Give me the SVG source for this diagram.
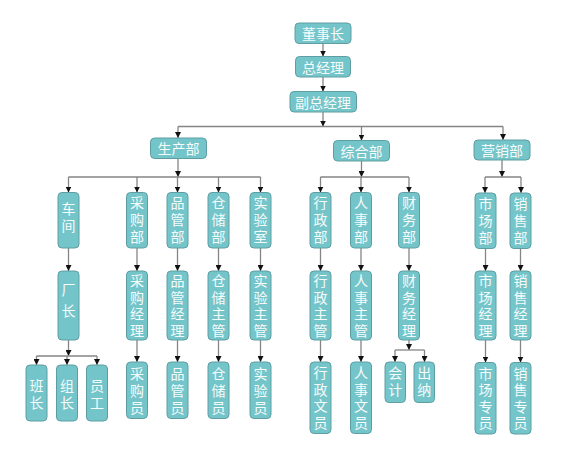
<svg xmlns="http://www.w3.org/2000/svg" width="567" height="471" viewBox="0 0 567 471">
<style>
.n rect{fill:#74C5CA;stroke:#5E9EA2;stroke-width:1}
.n text{fill:#F6FBFB;font-family:"Noto Sans CJK SC","Noto Sans",sans-serif;font-size:14px;text-anchor:middle;dominant-baseline:central}
.n text.v{writing-mode:vertical-rl;letter-spacing:3px}
.n text.v2{writing-mode:vertical-rl;letter-spacing:2.5px}
.n text.v7{writing-mode:vertical-rl;letter-spacing:7px}
#conn path{fill:none;stroke:#858585;stroke-width:1.3}
#conn path.a{marker-end:url(#ah)}
</style>
<defs>
<marker id="ah" markerUnits="userSpaceOnUse" markerWidth="6" markerHeight="6" viewBox="0 0 6 6" refX="6" refY="3" orient="auto">
<path d="M0,0 L6,3 L0,6 z" fill="#111"/>
</marker>
</defs>
<rect width="567" height="471" fill="#fff"/>
<g id="conn">
<path class="a" d="M323,43.5 V56.5"/>
<path class="a" d="M323,77 V91.5"/>
<path class="a" d="M323,112 V126.5"/>
<path d="M178,126.5 H503"/>
<path class="a" d="M178,126.5 V138"/>
<path class="a" d="M361.5,126.5 V140.5"/>
<path class="a" d="M503,126.5 V140"/>
<path class="a" d="M178,158.5 V177"/>
<path d="M68.5,177 H260.5"/>
<path class="a" d="M68.5,177 V192.5"/>
<path class="a" d="M137,177 V192.5"/>
<path class="a" d="M177.5,177 V192.5"/>
<path class="a" d="M218.5,177 V192.5"/>
<path class="a" d="M260.5,177 V192.5"/>
<path class="a" d="M361.5,161 V177"/>
<path d="M320.5,177 H409"/>
<path class="a" d="M320.5,177 V192.5"/>
<path class="a" d="M361,177 V192.5"/>
<path class="a" d="M409,177 V192.5"/>
<path class="a" d="M502,160 V177"/>
<path d="M485,177 H521"/>
<path class="a" d="M485,177 V193"/>
<path class="a" d="M521,177 V193"/>
<path class="a" d="M68.5,248 V271"/>
<path class="a" d="M137,248 V271"/>
<path class="a" d="M177.5,248 V271"/>
<path class="a" d="M218.5,248 V271"/>
<path class="a" d="M260.5,248 V271"/>
<path class="a" d="M320.5,248 V271"/>
<path class="a" d="M361,248 V271"/>
<path class="a" d="M409,248 V271"/>
<path class="a" d="M485.5,248.5 V271"/>
<path class="a" d="M520.5,248.5 V271"/>
<path class="a" d="M68.5,340 V356"/>
<path d="M36.5,356 H97"/>
<path class="a" d="M36.5,356 V365"/>
<path class="a" d="M67,356 V365"/>
<path class="a" d="M97,356 V365"/>
<path class="a" d="M137,340 V362"/>
<path class="a" d="M177.5,340 V362"/>
<path class="a" d="M218.5,340 V362"/>
<path class="a" d="M260.5,340 V362"/>
<path class="a" d="M320.5,340 V362"/>
<path class="a" d="M361,340 V362"/>
<path class="a" d="M409,340 V350"/>
<path d="M395,350 H424.5"/>
<path class="a" d="M395,350 V362"/>
<path class="a" d="M424.5,350 V362"/>
<path class="a" d="M485.5,340 V362.5"/>
<path class="a" d="M520.5,340 V362.5"/>
</g>
<g id="n_dsz" class="n"><rect x="295" y="23" width="56" height="20.5" rx="4"/><text x="323" y="33.25">董事长</text></g>
<g id="n_zjl" class="n"><rect x="295.5" y="56.5" width="55" height="20.5" rx="4"/><text x="323" y="66.75">总经理</text></g>
<g id="n_fzjl" class="n"><rect x="290" y="91.5" width="66.5" height="20.5" rx="4"/><text x="323" y="101.75">副总经理</text></g>
<g id="n_scb" class="n"><rect x="150.5" y="138" width="56" height="20.5" rx="4"/><text x="178.5" y="148.25">生产部</text></g>
<g id="n_zhb" class="n"><rect x="333.5" y="140.5" width="56" height="20.5" rx="4"/><text x="361.5" y="150.75">综合部</text></g>
<g id="n_yxb" class="n"><rect x="474" y="140" width="56" height="20" rx="4"/><text x="502" y="150">营销部</text></g>

<g id="n_cj" class="n"><rect x="58" y="192.5" width="21" height="55.5" rx="4"/><text class="v" x="68.5" y="219">车间</text></g>
<g id="n_cgb" class="n"><rect x="126.5" y="192.5" width="21" height="55.5" rx="4"/><text class="v" x="137" y="221.5">采购部</text></g>
<g id="n_pgb" class="n"><rect x="167" y="192.5" width="21" height="55.5" rx="4"/><text class="v" x="177.5" y="221.5">品管部</text></g>
<g id="n_ccb" class="n"><rect x="208" y="192.5" width="21" height="55.5" rx="4"/><text class="v" x="218.5" y="221.5">仓储部</text></g>
<g id="n_sys" class="n"><rect x="250" y="192.5" width="21" height="55.5" rx="4"/><text class="v" x="260.5" y="221.5">实验室</text></g>
<g id="n_xzb" class="n"><rect x="310" y="192.5" width="21" height="55.5" rx="4"/><text class="v" x="320.5" y="221.5">行政部</text></g>
<g id="n_rsb" class="n"><rect x="350.5" y="192.5" width="21" height="55.5" rx="4"/><text class="v" x="361" y="221.5">人事部</text></g>
<g id="n_cwb" class="n"><rect x="398.5" y="192.5" width="21" height="55.5" rx="4"/><text class="v" x="409" y="221.5">财务部</text></g>
<g id="n_scb2" class="n"><rect x="475" y="193" width="21" height="55.5" rx="4"/><text class="v" x="485.5" y="222">市场部</text></g>
<g id="n_xsb" class="n"><rect x="510" y="193" width="21" height="55.5" rx="4"/><text class="v" x="520.5" y="222">销售部</text></g>

<g id="n_cz" class="n"><rect x="58" y="271" width="21" height="69" rx="4"/><text class="v7" x="68.5" y="304">厂长</text></g>
<g id="n_cgjl" class="n"><rect x="126.5" y="271" width="21" height="69" rx="4"/><text class="v2" x="137" y="306.75">采购经理</text></g>
<g id="n_pgjl" class="n"><rect x="167" y="271" width="21" height="69" rx="4"/><text class="v2" x="177.5" y="306.75">品管经理</text></g>
<g id="n_cczg" class="n"><rect x="208" y="271" width="21" height="69" rx="4"/><text class="v2" x="218.5" y="306.75">仓储主管</text></g>
<g id="n_syzg" class="n"><rect x="250" y="271" width="21" height="69" rx="4"/><text class="v2" x="260.5" y="306.75">实验主管</text></g>
<g id="n_xzzg" class="n"><rect x="310" y="271" width="21" height="69" rx="4"/><text class="v2" x="320.5" y="306.75">行政主管</text></g>
<g id="n_rszg" class="n"><rect x="350.5" y="271" width="21" height="69" rx="4"/><text class="v2" x="361" y="306.75">人事主管</text></g>
<g id="n_cwjl" class="n"><rect x="398.5" y="271" width="21" height="69" rx="4"/><text class="v2" x="409" y="306.75">财务经理</text></g>
<g id="n_scjl" class="n"><rect x="475" y="271" width="21" height="69" rx="4"/><text class="v2" x="485.5" y="306.75">市场经理</text></g>
<g id="n_xsjl" class="n"><rect x="510" y="271" width="21" height="69" rx="4"/><text class="v2" x="520.5" y="306.75">销售经理</text></g>

<g id="n_bz" class="n"><rect x="26" y="365" width="21" height="56" rx="4"/><text class="v" x="36.5" y="396">班长</text></g>
<g id="n_zz" class="n"><rect x="56.5" y="365" width="21" height="56" rx="4"/><text class="v" x="67" y="396">组长</text></g>
<g id="n_yg" class="n"><rect x="86.5" y="365" width="21" height="56" rx="4"/><text class="v" x="97" y="396">员工</text></g>
<g id="n_cgy" class="n"><rect x="126.5" y="362" width="21" height="56.5" rx="4"/><text class="v" x="137" y="392">采购员</text></g>
<g id="n_pgy" class="n"><rect x="167" y="362" width="21" height="56.5" rx="4"/><text class="v" x="177.5" y="392">品管员</text></g>
<g id="n_ccy" class="n"><rect x="208" y="362" width="21" height="56.5" rx="4"/><text class="v" x="218.5" y="392">仓储员</text></g>
<g id="n_syy" class="n"><rect x="250" y="362" width="21" height="56.5" rx="4"/><text class="v" x="260.5" y="392">实验员</text></g>
<g id="n_xzwy" class="n"><rect x="310" y="362" width="21" height="71.5" rx="4"/><text class="v2" x="320.5" y="399">行政文员</text></g>
<g id="n_rswy" class="n"><rect x="350.5" y="362" width="21" height="71.5" rx="4"/><text class="v2" x="361" y="399">人事文员</text></g>
<g id="n_kj" class="n"><rect x="385" y="362" width="20.5" height="40.5" rx="4"/><text class="v" x="395.25" y="383">会计</text></g>
<g id="n_cn" class="n"><rect x="414" y="362" width="20.5" height="40.5" rx="4"/><text class="v" x="424.25" y="383">出纳</text></g>
<g id="n_sczy" class="n"><rect x="475" y="362.5" width="21" height="71.5" rx="4"/><text class="v2" x="485.5" y="399.5">市场专员</text></g>
<g id="n_xszy" class="n"><rect x="510" y="362.5" width="21" height="71.5" rx="4"/><text class="v2" x="520.5" y="399.5">销售专员</text></g>
</svg>
